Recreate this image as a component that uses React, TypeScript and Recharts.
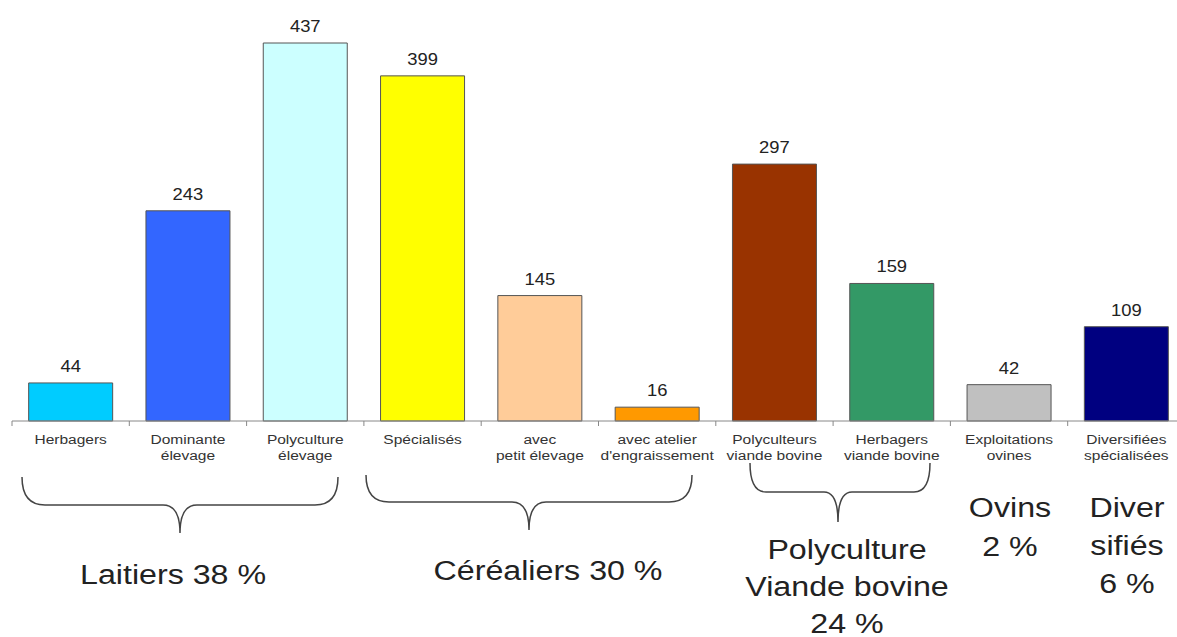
import React from 'react';
import { BarChart, Bar, XAxis, YAxis, Cell, LabelList } from 'recharts';

const categories = [
  'Herbagers',
  'Dominante\nélevage',
  'Polyculture\nélevage',
  'Spécialisés',
  'avec\npetit élevage',
  "avec atelier\nd'engraissement",
  'Polyculteurs\nviande bovine',
  'Herbagers\nviande bovine',
  'Exploitations\novines',
  'Diversifiées\nspécialisées',
];
const values = [44, 243, 437, 399, 145, 16, 297, 159, 42, 109];
const barColors = [
  '#00CCFF', '#3366FF', '#CCFFFF', '#FFFF00', '#FFCC99',
  '#FF9900', '#993300', '#339966', '#C0C0C0', '#000080',
];
const groupTexts = [
  ['Laitiers 38 %'],
  ['Céréaliers 30 %'],
  ['Polyculture', 'Viande bovine', '24 %'],
  ['Ovins', '2 %'],
  ['Diver', 'sifiés', '6 %'],
];

// layout (annotation geometry, not data)
const CHART_W = 1200;
const CHART_H = 637;
const MARGIN = { top: 43, right: 15, left: 12, bottom: 186 };
const BAND = (CHART_W - MARGIN.left - MARGIN.right) / categories.length;
const SX = 1.15;
const FONT = '"Liberation Sans", Arial, Helvetica, sans-serif';

const groupLayout = [
  { cx: 173, y: 584, lh: 38 },
  { cx: 548, y: 580, lh: 38 },
  { cx: 847, y: 559, lh: 37 },
  { cx: 1010, y: 517, lh: 39 },
  { cx: 1127, y: 517, lh: 38 },
];
const bracketLayout = [
  { x0: 22, x1: 338, xc: 180, yTop: 477, yMid: 505, yTip: 533, r: 23, rc: 17 },
  { x0: 366, x1: 692, xc: 529, yTop: 475, yMid: 502, yTip: 530, r: 23, rc: 17 },
  { x0: 750, x1: 930, xc: 838, yTop: 463, yMid: 492, yTip: 522, r: 16, rc: 14 },
];

const data = categories.map((name, i) => ({ name, value: values[i] }));

const CatTick = (props: any) => {
  const { x, y, payload, index } = props;
  const lines = String(payload.value).split('\n');
  const last = index === categories.length - 1;
  return (
    <g>
      <line x1={x - BAND / 2} x2={x - BAND / 2} y1={y} y2={y + 5} stroke="#888" />
      {last && <line x1={x + BAND / 2} x2={x + BAND / 2} y1={y} y2={y + 5} stroke="#888" />}
      <g transform={`translate(${x},${y}) scale(${SX},1)`}>
        <text textAnchor="middle" fontSize={13.5} fill="#333" fontFamily={FONT}>
          {lines.map((l, i) => (
            <tspan key={i} x={0} y={23 + i * 16}>{l}</tspan>
          ))}
        </text>
      </g>
    </g>
  );
};

const ValueLabel = (props: any) => {
  const { x, y, width, value } = props;
  const cx = Number(x) + Number(width) / 2;
  return (
    <g transform={`translate(${cx},${Number(y) - 11}) scale(${SX},1)`}>
      <text x={0} y={0} textAnchor="middle" fontSize={16} fill="#222" fontFamily={FONT}>
        {value}
      </text>
    </g>
  );
};

const bracePath = (b: any) =>
  `M ${b.x0} ${b.yTop} Q ${b.x0} ${b.yMid} ${b.x0 + b.r} ${b.yMid} ` +
  `L ${b.xc - b.rc} ${b.yMid} Q ${b.xc} ${b.yMid} ${b.xc} ${b.yTip} ` +
  `Q ${b.xc} ${b.yMid} ${b.xc + b.rc} ${b.yMid} L ${b.x1 - b.r} ${b.yMid} ` +
  `Q ${b.x1} ${b.yMid} ${b.x1} ${b.yTop}`;

export default function App() {
  return (
    <div
      style={{
        position: 'absolute',
        left: 0,
        top: 0,
        width: 1177,
        height: 637,
        overflow: 'hidden',
        background: '#fff',
      }}
    >
      <BarChart width={CHART_W} height={CHART_H} data={data} margin={MARGIN} barCategoryGap="14.2%">
        <XAxis
          dataKey="name"
          interval={0}
          axisLine={{ stroke: '#888' }}
          tickLine={false}
          tickSize={0}
          tickMargin={0}
          height={30}
          tick={<CatTick />}
        />
        <YAxis hide domain={[0, 437]} />
        <Bar dataKey="value" stroke="#555" strokeWidth={1} isAnimationActive={false}>
          {data.map((d, i) => (
            <Cell key={d.name} fill={barColors[i]} />
          ))}
          <LabelList dataKey="value" position="top" content={<ValueLabel />} />
        </Bar>
      </BarChart>
      <svg
        width={1177}
        height={637}
        style={{ position: 'absolute', left: 0, top: 0, pointerEvents: 'none' }}
      >
        {bracketLayout.map((b, i) => (
          <path key={i} d={bracePath(b)} fill="none" stroke="#444" strokeWidth={1.5} />
        ))}
        {groupTexts.map((lines, i) => {
          const g = groupLayout[i];
          return (
            <g key={i} transform={`translate(${g.cx},${g.y}) scale(${SX},1)`}>
              <text textAnchor="middle" fontSize={28} fill="#222" fontFamily={FONT}>
                {lines.map((l, j) => (
                  <tspan key={j} x={0} y={j * g.lh}>{l}</tspan>
                ))}
              </text>
            </g>
          );
        })}
      </svg>
    </div>
  );
}
